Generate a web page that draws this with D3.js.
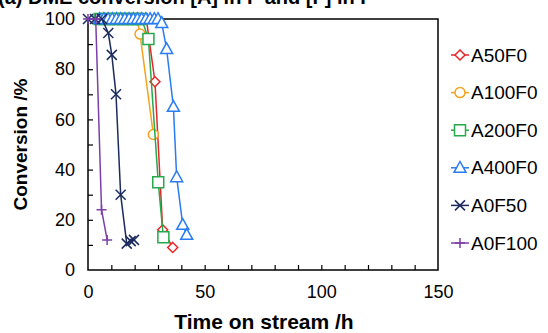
<!DOCTYPE html>
<html>
<head>
<meta charset="utf-8">
<script src="https://cdn.jsdelivr.net/npm/d3@7"></script>
<style>
	body { margin: 0; background: #fff; }
	svg { display: block; font-family: "Liberation Sans", Arial, sans-serif; }
</style>
</head>
<body>
<svg id="chart" width="548" height="333"></svg>
<script>
// series names, in legend order
const seriesNames = ['A50F0', 'A100F0', 'A200F0', 'A400F0', 'A0F50', 'A0F100'];

// time on stream (h) and conversion (%)
const timeA50F0 = [5, 7, 9, 11, 13, 15, 17, 19, 21, 23, 25, 28.7, 32, 36.3];
const convA50F0 = [100, 100, 100, 100, 100, 100, 100, 100, 100, 100, 100, 75, 16, 9];

const timeA100F0 = [5, 7, 9, 11, 13, 15, 17, 19, 21, 22.3, 28];
const convA100F0 = [100, 100, 100, 100, 100, 100, 100, 100, 100, 94, 54];

const timeA200F0 = [5, 7, 9, 11, 13, 15, 17, 19, 21, 23, 25.9, 30.1, 32.3];
const convA200F0 = [100, 100, 100, 100, 100, 100, 100, 100, 100, 100, 92, 35, 13];

const timeA400F0 = [5, 6.8, 8.6, 10.4, 12.2, 14, 15.8, 17.6, 19.4, 21.2, 23, 24.8, 26.6, 28.4, 30, 31.6, 33.7, 36.6, 38, 40.6, 42.3];
const convA400F0 = [100, 100, 100, 100, 100, 100, 100, 100, 100, 100, 100, 100, 100, 100, 100, 98.4, 88, 65, 37, 18, 14];

const timeA0F50 = [0, 3, 6, 8.7, 10.2, 12, 14, 16.6, 18.3, 19.7];
const convA0F50 = [100, 100, 100, 94.4, 85.7, 70, 30, 10.5, 11.5, 12];

const timeA0F100 = [0, 3.3, 5.8, 8.2];
const convA0F100 = [100, 100, 24, 12];

const xTicks = [0, 50, 100, 150];
const yTicks = [0, 20, 40, 60, 80, 100];

const seriesTimes = [timeA50F0, timeA100F0, timeA200F0, timeA400F0, timeA0F50, timeA0F100];
const seriesConv = [convA50F0, convA100F0, convA200F0, convA400F0, convA0F50, convA0F100];

const colors = ['#e8262a', '#f5a31f', '#26a84c', '#2a7cf2', '#1c2b5e', '#7b3fa8'];

/**
 * marker shapes, r is half size in px
 */
const shapes = {
	diamond: r => ({ draw (c) { c.moveTo(0, -r); c.lineTo(r, 0); c.lineTo(0, r); c.lineTo(-r, 0); c.closePath(); } }),
	circle: r => ({ draw (c) { c.moveTo(r, 0); c.arc(0, 0, r, 0, 2 * Math.PI); c.closePath(); } }),
	square: r => ({ draw (c) { c.rect(-r, -r, 2 * r, 2 * r); } }),
	triangle: r => ({ draw (c) { c.moveTo(0, -r * 1.05); c.lineTo(r, r * 0.75); c.lineTo(-r, r * 0.75); c.closePath(); } }),
	times: r => ({ draw (c) { c.moveTo(-r, -r); c.lineTo(r, r); c.moveTo(r, -r); c.lineTo(-r, r); } }),
	plus: r => ({ draw (c) { c.moveTo(-r, 0); c.lineTo(r, 0); c.moveTo(0, -r); c.lineTo(0, r); } }),
};
const markerTypes = [shapes.diamond(5), shapes.circle(5), shapes.square(5.5), shapes.triangle(6), shapes.times(5), shapes.plus(5)];

const svg = d3.select('#chart');
const margin = { top: 19, right: 110, bottom: 63, left: 88 };
const width = 548, height = 333;

const x = d3.scaleLinear().domain([0, 150]).range([margin.left, width - margin.right]);
const y = d3.scaleLinear().domain([0, 100]).range([height - margin.bottom, margin.top]);

// title, cut off at the top edge like the source figure
svg.append('text')
	.attr('x', -2)
	.attr('y', 4)
	.attr('font-size', 20)
	.attr('font-weight', 'bold')
	.text('(a) DME conversion [A] in F and [F] in F');

// minor ticks (inside)
svg.append('g')
	.attr('transform', `translate(0,${y(0)})`)
	.call(d3.axisBottom(x).tickValues(d3.range(10, 150, 10)).tickSize(-5).tickFormat(''))
	.call(g => g.select('.domain').remove());
svg.append('g')
	.attr('transform', `translate(${x(0)},0)`)
	.call(d3.axisLeft(y).tickValues(d3.range(10, 100, 10)).tickSize(-5).tickFormat(''))
	.call(g => g.select('.domain').remove());
svg.selectAll('.tick line').attr('stroke', '#000').attr('stroke-width', 1.2);

// tick labels
svg.append('g')
	.attr('transform', `translate(0,${y(0)})`)
	.call(d3.axisBottom(x).tickValues(xTicks).tickSize(0).tickPadding(15))
	.call(g => g.select('.domain').remove())
	.selectAll('text').attr('font-size', 18).attr('font-family', null).attr('fill', '#000');
svg.append('g')
	.attr('transform', `translate(${x(0)},0)`)
	.call(d3.axisLeft(y).tickValues(yTicks).tickSize(0).tickPadding(13))
	.call(g => g.select('.domain').remove())
	.selectAll('text').attr('font-size', 18).attr('font-family', null).attr('fill', '#000');

// frame
svg.append('rect')
	.attr('x', x(0))
	.attr('y', y(100))
	.attr('width', x(150) - x(0))
	.attr('height', y(0) - y(100))
	.attr('fill', 'none')
	.attr('stroke', '#000')
	.attr('stroke-width', 1.5);

// axis titles
svg.append('text')
	.attr('x', (x(0) + x(150)) / 2 + 1)
	.attr('y', 329)
	.attr('text-anchor', 'middle')
	.attr('font-size', 21)
	.attr('font-weight', 'bold')
	.text('Time on stream /h');
svg.append('text')
	.attr('transform', `translate(27,${(y(0) + y(100)) / 2}) rotate(-90)`)
	.attr('text-anchor', 'middle')
	.attr('font-size', 19)
	.attr('font-weight', 'bold')
	.text('Conversion /%');

const lineGen = d3.line().x(d => x(d[0])).y(d => y(d[1]));

// series
seriesNames.forEach((name, i) => {
	const pts = seriesTimes[i].map((t, j) => [t, seriesConv[i][j]]);
	const g = svg.append('g').attr('class', 'series');
	g.append('path')
		.attr('d', lineGen(pts))
		.attr('fill', 'none')
		.attr('stroke', colors[i])
		.attr('stroke-width', 1.5);
	g.selectAll('.marker')
		.data(pts)
		.enter()
		.append('path')
		.attr('class', 'marker')
		.attr('transform', d => `translate(${x(d[0])},${y(d[1])})`)
		.attr('d', d3.symbol().type(markerTypes[i]))
		.attr('fill', '#fff')
		.attr('stroke', colors[i])
		.attr('stroke-width', 1.5);
});

// legend
const legend = svg.append('g')
	.selectAll('g')
	.data(seriesNames)
	.enter()
	.append('g')
	.attr('transform', (_, i) => `translate(460,${55 + i * 37.6})`);
legend.append('line')
	.attr('x1', -9).attr('x2', 9)
	.attr('stroke', (_, i) => colors[i])
	.attr('stroke-width', 1.5);
legend.append('path')
	.attr('d', (_, i) => d3.symbol().type(markerTypes[i])())
	.attr('fill', '#fff')
	.attr('stroke', (_, i) => colors[i])
	.attr('stroke-width', 1.5);
legend.append('text')
	.attr('x', 11)
	.attr('dy', '0.35em')
	.attr('font-size', 19)
	.text(d => d);
</script>
</body>
</html>
